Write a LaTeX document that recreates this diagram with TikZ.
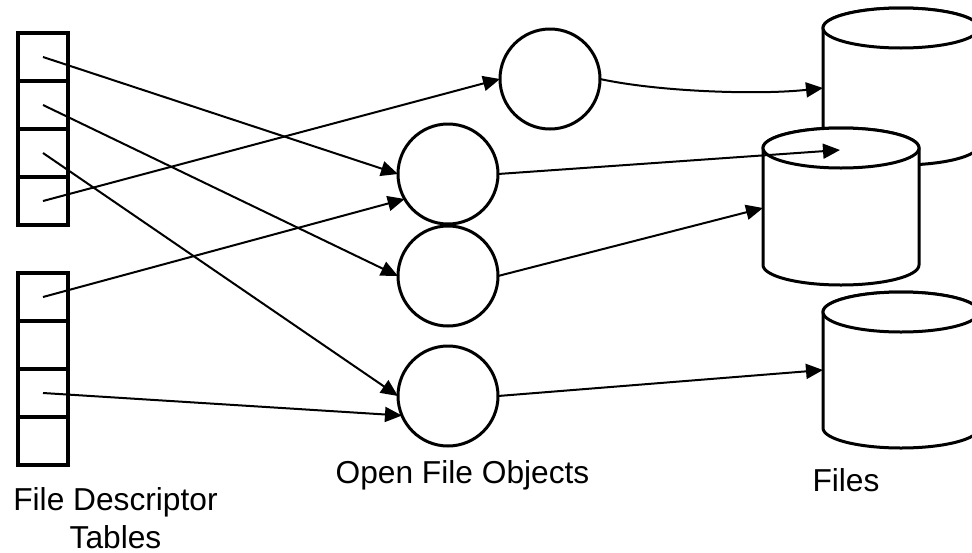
\documentclass[tikz,border=0pt]{standalone}
\usepackage{fontspec}
\setmainfont{Liberation Sans}
\usetikzlibrary{arrows.meta}

\tikzset{
  cell/.style={draw, line width=3.2pt, minimum width=50pt, minimum height=48pt,
    inner sep=0pt, outer sep=0pt},
  fileobj/.style={draw, circle, line width=3pt, minimum size=100pt, inner sep=0pt,
    outer sep=0pt},
  link/.style={line width=2pt, -{Triangle[length=17pt,width=15pt]}},
  drum/.style={draw, fill=white, line width=3pt},
  caption/.style={font=\fontsize{31.7}{38}\selectfont, align=center, inner sep=0pt}
}

% cylinder: centre x, top centre y, bottom centre y
\newcommand{\drumshape}[3]{%
  \filldraw[drum] (#1-78,#2) -- (#1-78,#3)
    arc[start angle=180, end angle=360, x radius=78pt, y radius=20pt]
    -- (#1+78,#2)
    arc[start angle=0, end angle=180, x radius=78pt, y radius=20pt] -- cycle;
  \draw[drum] (#1,#2) ellipse[x radius=78pt, y radius=20pt];
}

\begin{document}
\begin{tikzpicture}[x=1pt, y=-1pt]
  \useasboundingbox (0,0) rectangle (972,552);
  \clip (0,0) rectangle (972,552);

  % file descriptor tables
  \foreach \i/\yy in {1/57, 2/105, 3/153, 4/201} {
    \node[cell] (ta\i) at (43,\yy) {};
  }
  \foreach \i/\yy in {1/297, 2/345, 3/393, 4/441} {
    \node[cell] (tb\i) at (43,\yy) {};
  }

  % open file objects
  \node[fileobj] (oa) at (550,79) {};
  \node[fileobj] (ob) at (448,174) {};
  \node[fileobj] (oc) at (448,276) {};
  \node[fileobj] (od) at (448,396) {};

  % files
  \drumshape{901}{28}{145}
  \drumshape{841}{148}{265}
  \drumshape{901}{312}{428}
  \coordinate (fa) at (823,88);
  \coordinate (fbtop) at (840,150);
  \coordinate (fb) at (763,208);
  \coordinate (fc) at (823,370);

  % descriptors to file objects
  \draw[link] (ta1.center) -- (ob.west);
  \draw[link] (ta2.center) -- (oc.west);
  \draw[link] (ta3.center) -- (od.west);
  \draw[link] (ta4.center) -- (oa.west);
  \draw[link] (tb1.center) -- (ob.210);
  \draw[link] (tb3.center) -- (od.203);

  % file objects to files
  \draw[link] (oa.east) .. controls (660,92) and (760,95) .. (fa);
  \draw[link] (ob.east) -- (fbtop);
  \draw[link] (oc.east) -- (fb);
  \draw[link] (od.east) -- (fc);

  % captions (base anchor sits on the last line)
  \node[caption, anchor=base] (lt) at (115.5,548) {File Descriptor\\Tables};
  \node[caption, anchor=base] (lo) at (462.5,483) {Open File Objects};
  \node[caption, anchor=base] (lf) at (846,491) {Files};
\end{tikzpicture}
\end{document}
